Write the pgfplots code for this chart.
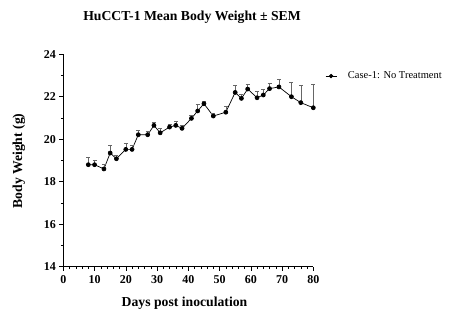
\documentclass[border=0pt]{standalone}
\usepackage{pgfplots}
\pgfplotsset{compat=1.18}
\usepackage{pgfplotstable}
\usepackage{fontspec}
\setmainfont{Liberation Serif}
\pgfplotstableread{
day val err
8 18.8 0.35
10 18.8 0.2
13 18.6 0.2
15 19.35 0.35
17 19.08 0.15
20 19.52 0.3
22 19.52 0.2
24 20.21 0.2
27 20.21 0.15
29 20.65 0.15
31 20.3 0.22
34 20.57 0.15
36 20.65 0.2
38 20.51 0.15
41 20.98 0.15
43 21.33 0.3
45 21.67 0.1
48 21.09 0.15
52 21.27 0.3
55 22.2 0.35
57 21.92 0.2
59 22.36 0.2
62 21.95 0.3
64 22.08 0.25
66 22.38 0.25
69 22.46 0.35
73 22.0 0.7
76 21.72 0.8
80 21.48 1.1
}\casedata
\begin{document}
\begin{tikzpicture}[x=1pt,y=1pt]
\useasboundingbox (0,0) rectangle (460,332);
\begin{axis}[
  at={(63.3pt,65.3pt)}, anchor=south west,
  scale only axis, width=250pt, height=212.5pt,
  xmin=0, xmax=80, ymin=14, ymax=24,
  axis x line=bottom, axis y line=left,
  axis line style={-, line width=0.6pt, black},
  tick align=outside,
  tick style={black, line width=0.5pt},
  major tick length=4pt, minor tick length=2.5pt,
  xtick={0,10,...,80}, minor x tick num=4,
  ytick={14,16,...,24}, minor y tick num=1,
  /pgf/number format/assume math mode=true,
  ticklabel style={font=\bfseries\fontsize{12}{12}\selectfont},
  xticklabel style={yshift=-1pt},
  legend style={at={(1.035,0.897)}, anchor=west, draw=none, fill=none,
    font=\fontsize{10.5}{12}\selectfont, legend cell align=left,
    column sep=9pt},
  legend image code/.code={
    \draw[#1, line width=0.7pt] (0pt,0pt) -- (11pt,0pt);
    \fill[black] (5.5pt,0pt) circle (1.8pt);
  },
  clip=false,
]
\addplot[black, line width=0.7pt, mark=*, mark size=2pt,
  mark options={solid, fill=black},
  error bars/.cd, y dir=plus, y explicit,
  error bar style={gray!80!black, line width=0.6pt},
  error mark options={rotate=90, mark size=2pt, gray!80!black, line width=0.6pt}]
  table[x=day, y=val, y error=err] {\casedata};
\addlegendentry{Case-1: No Treatment}
\end{axis}
\node[font=\bfseries\fontsize{13.7}{15}\selectfont] at (192,315) {HuCCT-1 Mean Body Weight ± SEM};
\node[font=\bfseries\fontsize{13.7}{15}\selectfont] at (184.5,29) {Days post inoculation};
\node[font=\bfseries\fontsize{13.7}{15}\selectfont, rotate=90] at (19,171) {Body Weight (g)};
\end{tikzpicture}
\end{document}
